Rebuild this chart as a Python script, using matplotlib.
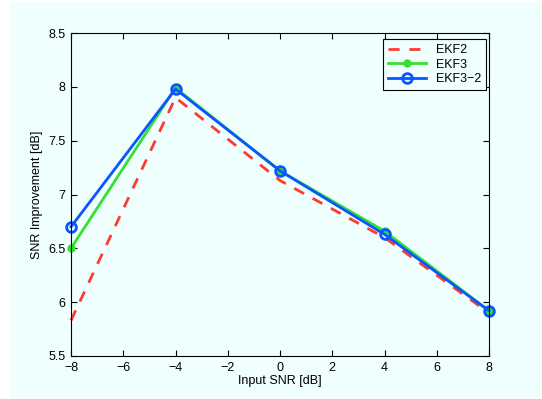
import matplotlib
matplotlib.use("Agg")
import matplotlib.pyplot as plt
from matplotlib.patches import Rectangle

input_snr = [-8, -4, 0, 4, 8]
ekf2 = [5.83, 7.90, 7.13, 6.60, 5.90]
ekf3 = [6.50, 7.99, 7.22, 6.66, 5.92]
ekf32 = [6.70, 7.98, 7.22, 6.63, 5.92]
xticks = [-8, -6, -4, -2, 0, 2, 4, 6, 8]
yticks = [5.5, 6, 6.5, 7, 7.5, 8, 8.5]

plt.rcParams['font.family'] = ['Liberation Sans', 'DejaVu Sans']
bg = '#eefffe'
fs = 9
fig = plt.figure(figsize=(5.42, 3.99), dpi=100, facecolor='white')
fig.patches.append(Rectangle((10/542, 2/399), 1 - 10/542, 1 - 4/399, transform=fig.transFigure,
                             facecolor=bg, edgecolor='none', zorder=-10))
ax = fig.add_axes([71/542, 1 - 356/399, (489-71)/542, (356-33)/399])
ax.set_facecolor(bg)

ax.plot(input_snr, ekf2, '--', color='#ff3b30', lw=2.0, dashes=(4, 3.5), label='EKF2', clip_on=False)
ax.plot(input_snr, ekf3, '-', color='#33e033', lw=2.0, marker='o', ms=5, mfc='#33e033', mec='#33e033',
        label='EKF3', clip_on=False)
ax.plot(input_snr, ekf32, '-', color='#0a55ff', lw=2.0, marker='o', ms=7, mfc='none', mec='#0a55ff', mew=2,
        label='EKF3\u22122', clip_on=False)

ax.set_xlim(-8, 8)
ax.set_ylim(5.5, 8.5)
ax.set_xticks(xticks)
ax.set_yticks(yticks)
ax.set_xticklabels([str(t).replace('-', '\u2212') for t in xticks])
ax.set_yticklabels([('%g' % t) for t in yticks])
ax.tick_params(direction='in', top=True, right=True, labelsize=fs, length=4, width=0.8, pad=4)
for s in ax.spines.values():
    s.set_linewidth(0.8)
ax.set_xlabel('Input SNR [dB]', fontsize=fs, labelpad=1)
ax.set_ylabel('SNR Improvement [dB]', fontsize=fs, labelpad=4)

leg = ax.legend(loc='upper right', bbox_to_anchor=(0.993, 0.981), fontsize=fs, fancybox=False,
                framealpha=1, edgecolor='black', facecolor=bg, borderpad=0.4, handlelength=3.0,
                labelspacing=0.2, borderaxespad=0.0)
leg.get_frame().set_linewidth(0.8)

fig.savefig('out.png', dpi=100, facecolor=fig.get_facecolor())
